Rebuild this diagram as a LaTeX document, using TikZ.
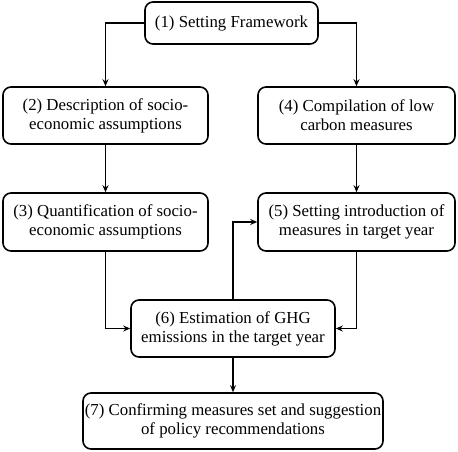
\documentclass[tikz,border=0pt]{standalone}
\usepackage{fontspec}
\setmainfont{Liberation Serif}
\usetikzlibrary{arrows.meta}
\begin{document}
\begin{tikzpicture}[x=1pt,y=-1pt,
  stepbox/.style={draw=black, line width=1.6pt, rounded corners=8pt, align=center,
    inner sep=0pt, font=\fontsize{16.8}{19}\selectfont, fill=white},
  conn/.style={line width=1.5pt, -{Stealth[length=7pt,width=6pt]}}]
\useasboundingbox (0,0) rectangle (458,452);
\node[stepbox, minimum width=173pt, minimum height=42pt] (b1) at (231.5,23) {(1) Setting Framework};
\node[stepbox, minimum width=205pt, minimum height=57pt] (b2) at (105.5,115.5) {(2) Description of socio-\\economic assumptions};
\node[stepbox, minimum width=197pt, minimum height=57pt] (b4) at (356.5,115.5) {(4) Compilation of low\\carbon measures};
\node[stepbox, minimum width=205pt, minimum height=58pt] (b3) at (105.5,222) {(3) Quantification of socio-\\economic assumptions};
\node[stepbox, minimum width=197pt, minimum height=58pt] (b5) at (356.5,222) {(5) Setting introduction of\\measures in target year};
\node[stepbox, minimum width=204pt, minimum height=57pt] (b6) at (233,328.5) {(6) Estimation of GHG\\emissions in the target year};
\node[stepbox, minimum width=300pt, minimum height=56pt] (b7) at (233,421) {(7) Confirming measures set and suggestion\\of policy recommendations};
\draw[conn] (b1.west) -| (b2.north);
\draw[conn] (b1.east) -| (b4.north);
\draw[conn] (b2.south) -- (b3.north);
\draw[conn] (b4.south) -- (b5.north);
\draw[conn] (b3.south) |- (b6.west);
\draw[conn] (b5.south) |- (b6.east);
\draw[conn] (b6.north) |- (b5.west);
\draw[conn] (b6.south) -- (b7.north);
\end{tikzpicture}
\end{document}
